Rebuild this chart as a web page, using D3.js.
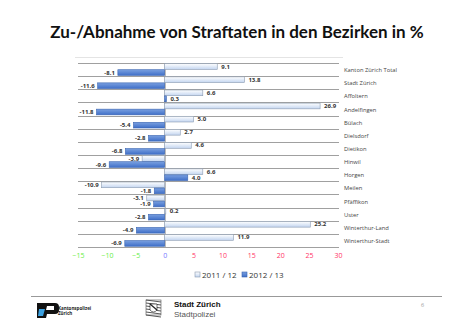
<!DOCTYPE html>
<html><head><meta charset="utf-8">
<script src="https://cdn.jsdelivr.net/npm/d3@7"></script>
<style>body{margin:0;background:#fff}svg{display:block}</style>
</head><body>
<script>
const categories = ["Kanton Zürich Total","Stadt Zürich","Affoltern","Andelfingen","Bülach","Dielsdorf","Dietikon","Hinwil","Horgen","Meilen","Pfäffikon","Uster","Winterthur-Land","Winterthur-Stadt"];
const series1 = [9.1,13.8,6.6,26.9,5.0,2.7,4.6,-3.9,6.6,-10.9,-3.1,0.2,25.2,11.9];
const series2 = [-8.1,-11.6,0.3,-11.8,-5.4,-2.8,-6.8,-9.6,4.0,-1.8,-1.9,-2.8,-4.9,-6.9];
const seriesNames = ["2011 / 12","2012 / 13"];
const tickValues = [-15,-10,-5,0,5,10,15,20,25,30];

const W=452,H=330;
const svg=d3.select("body").append("svg").attr("width",W).attr("height",H);
const defs=svg.append("defs");
const g1=defs.append("linearGradient").attr("id","gLight").attr("x1",0).attr("y1",0).attr("x2",0).attr("y2",1);
g1.append("stop").attr("offset","0%").attr("stop-color","#ffffff");
g1.append("stop").attr("offset","100%").attr("stop-color","#c3d5f0");
const g2=defs.append("linearGradient").attr("id","gBlue").attr("x1",0).attr("y1",0).attr("x2",0).attr("y2",1);
g2.append("stop").attr("offset","0%").attr("stop-color","#7aa0e0");
g2.append("stop").attr("offset","100%").attr("stop-color","#3f6fc8");

// title
svg.append("text").attr("x",237).attr("y",38).attr("text-anchor","middle")
  .attr("font-family","Lato, 'Open Sans', sans-serif").attr("font-weight","bold")
  .attr("font-size",17).attr("fill","#111")
  .text("Zu-/Abnahme von Straftaten in den Bezirken in %");

const x=d3.scaleLinear().domain([-15,30]).range([78,338]);
const y=d3.scaleBand().domain(categories).range([63,247]).paddingInner(0);
const sub=d3.scaleBand().domain([0,1]).range([0,y.bandwidth()]).paddingInner(0.05).paddingOuter(0.12);

// top border faint
svg.append("line").attr("x1",75).attr("x2",343).attr("y1",57.5).attr("y2",57.5).attr("stroke","#e4e4e4");

// gridlines
const gl=svg.append("g");
categories.concat([null]).forEach((c)=>{
  const yy = c===null? y.range()[1] : y(c);
  gl.append("line").attr("x1",78).attr("x2",339).attr("y1",Math.round(yy)+0.5).attr("y2",Math.round(yy)+0.5)
    .attr("stroke","#a0a0a0").attr("stroke-width",1);
});
// zero line
svg.append("line").attr("x1",x(0)+0.5).attr("x2",x(0)+0.5).attr("y1",63).attr("y2",247).attr("stroke","#999");

const fontSmall="'Open Sans', 'DejaVu Sans', sans-serif";
[series1,series2].forEach((s,si)=>{
  const gg=svg.append("g");
  s.forEach((v,i)=>{
    const c=categories[i];
    const y0=y(c)+sub(si);
    const h=sub.bandwidth();
    const xa=x(Math.min(0,v)), xb=x(Math.max(0,v));
    gg.append("rect").attr("x",xa).attr("y",y0).attr("width",Math.max(1,xb-xa)).attr("height",h)
      .attr("fill",si===0?"url(#gLight)":"url(#gBlue)")
      .attr("stroke",si===0?"#8a9ab0":"#3a64b0").attr("stroke-width",0.6);
    gg.append("text").attr("x",v>=0? x(v)+4 : x(v)-3).attr("y",y0+h/2+2)
      .attr("text-anchor",v>=0?"start":"end").attr("font-family",fontSmall)
      .attr("font-size",6).attr("font-weight","bold").attr("fill","#333").text(v.toFixed(1));
  });
});

// category labels
categories.forEach(c=>{
  svg.append("text").attr("x",344).attr("y",y(c)+y.bandwidth()/2+2.5)
    .attr("font-family",fontSmall).attr("font-size",5.8).attr("fill","#444").text(c);
});

// x axis labels
const axis=d3.axisBottom(x).tickValues(tickValues).tickSize(0).tickFormat(d3.format("d"));
const ax=svg.append("g").attr("transform","translate(0,250)").call(axis);
ax.select(".domain").remove();
ax.selectAll("text").attr("font-family",fontSmall).attr("font-size",7)
  .attr("fill",d=>d<0?"#66ee44":(d===0?"#7777ff":"#ff3366"));

// legend
const lg=svg.append("g").attr("transform","translate(195,272)");
seriesNames.forEach((n,i)=>{
  const ox=i*47;
  lg.append("rect").attr("x",ox).attr("y",0).attr("width",5).attr("height",5)
    .attr("fill",i===0?"url(#gLight)":"url(#gBlue)").attr("stroke",i===0?"#8a9ab0":"#3a64b0").attr("stroke-width",0.6);
  lg.append("text").attr("x",ox+7).attr("y",5.5).attr("font-family",fontSmall).attr("font-size",8)
    .attr("fill","#333").text(n);
});

// footer
svg.append("line").attr("x1",31).attr("x2",442).attr("y1",296.5).attr("y2",296.5).attr("stroke","#999").attr("stroke-width",1);
// Kapo logo
const kp=svg.append("g").attr("transform","translate(35,303)");
kp.append("path").attr("d","M2,0 L20,0 Q24,0 24,4 L24,7 Q24,11 20,11 L12,11 L11,15 L2,15 Z").attr("fill","#111");
kp.append("path").attr("d","M4,6 L10,6 L8,13 L3,13 Z").attr("fill","#3aa0e0");
kp.append("path").attr("d","M12,3 L19,3 L19,7 L11,7 Z").attr("fill","#fff");
svg.append("text").attr("x",58).attr("y",310).attr("font-family",fontSmall).attr("font-size",4.5).attr("font-weight","bold").attr("fill","#222").text("Kantonspolizei");
svg.append("text").attr("x",58).attr("y",315).attr("font-family",fontSmall).attr("font-size",4.5).attr("font-weight","bold").attr("fill","#222").text("Zürich");
// crest
const cr=svg.append("g").attr("transform","translate(146,300)");
cr.append("rect").attr("x",0).attr("y",0).attr("width",15).attr("height",15).attr("fill","#fff").attr("stroke","#555").attr("stroke-width",0.6);
for(let i=0;i<6;i++){cr.append("line").attr("x1",0).attr("y1",i*3).attr("x2",15).attr("y2",i*3+2).attr("stroke","#444").attr("stroke-width",0.9);}
cr.append("path").attr("d","M4,4 L11,4 L11,10 Q7.5,14 4,10 Z").attr("fill","#fff").attr("stroke","#333").attr("stroke-width",0.7);
cr.append("path").attr("d","M4,4 L11,10").attr("stroke","#222").attr("stroke-width",1.2);
svg.append("text").attr("x",174).attr("y",307).attr("font-family","'Liberation Sans', Arial, sans-serif").attr("font-size",8).attr("font-weight","bold").attr("fill","#111").text("Stadt Zürich");
svg.append("text").attr("x",174).attr("y",317).attr("font-family","'Liberation Sans', Arial, sans-serif").attr("font-size",8).attr("fill","#555").text("Stadtpolizei");
svg.append("text").attr("x",421).attr("y",307).attr("font-family",fontSmall).attr("font-size",5.5).attr("fill","#999").text("6");
</script>
</body></html>
